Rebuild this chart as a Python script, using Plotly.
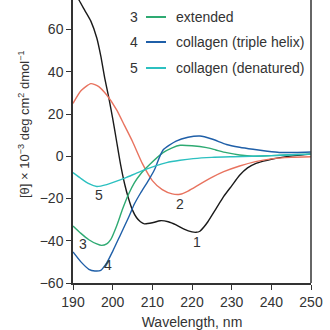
import plotly.graph_objects as go

# curve 1: alpha helix (black)
wl1 = [190, 191.5, 193, 194.5, 196, 197, 198, 199, 200, 201, 202, 203, 204, 205, 206, 207, 208, 210, 212,
       214, 216, 218, 220, 221, 222, 223, 224, 226, 228, 230, 232, 234, 236, 238, 240, 243, 246, 250]
v1 = [80, 74, 69, 64, 56, 47.5, 37, 28, 18, 7, -4, -13, -20, -25.5, -29, -31, -32, -31.5, -30.5,
      -31, -32.5, -34.5, -35.8, -36, -35.5, -33.5, -31, -25, -19, -14, -9, -5.5, -3.5, -2.3, -1.4, -0.4, 0.3, 1]
# curve 2: antiparallel beta sheet (red)
wl2 = [190, 192, 194.5, 196.5, 198.5, 201, 203, 205, 207.5, 210, 212.5, 215, 217, 219, 222, 225, 228, 232, 236, 240, 245, 250]
v2 = [25, 31, 34.4, 33, 29, 22, 14.5, 7, -3.5, -11.5, -15.8, -17.8, -18, -16.5, -13.2, -10, -7.3, -4.6, -2.5, -1.2, -0.5, -0.2]
# curve 3: extended (green)
wl3 = [190, 192, 194, 196, 197.2, 198.5, 199.5, 201, 202.5, 204, 205.5, 207, 209.4, 212.7, 215, 217, 220, 223.7, 226, 228.7, 232, 235.4, 240, 245, 250]
v3 = [-33, -36.5, -39.5, -41.5, -42.2, -41.5, -39.5, -33, -25, -18, -12.5, -8.5, -3.8, 1.7, 4, 5.2, 5, 4.1, 3, 1.7, 0.6, 0, 0.3, 0.7, 1]
# curve 4: collagen triple helix (blue)
wl4 = [190, 192, 194, 195.5, 197, 198.5, 200, 202, 204, 205.5, 207, 209, 210.5, 212.7, 216, 219, 222, 225, 228.7, 232, 235.4, 239, 242, 246, 250]
v4 = [-45.3, -50, -53.5, -54.3, -54, -50.5, -45, -37, -29, -22.5, -17.5, -11.5, -6.5, 3, 7.2, 9, 9.6, 8.2, 5.6, 4.3, 3.3, 2.4, 1.8, 1.8, 2]
# curve 5: collagen denatured (cyan)
wl5 = [190, 192, 194, 196, 198.5, 201, 203.5, 206, 208.5, 211, 213.6, 217, 220.3, 225, 230.4, 235, 240, 245, 250]
v5 = [-7.7, -10.5, -13, -14.3, -13.4, -11.8, -10, -8, -6.1, -4.4, -3, -1.9, -1.1, -0.5, -0.2, 0, 0.3, 0.7, 1]

series = [(wl1, v1, "#1a1a1a"), (wl2, v2, "#e8735f"), (wl3, v3, "#2eaa72"),
          (wl4, v4, "#1f5fa8"), (wl5, v5, "#2cc0c0")]

legend_nums = ["3", "4", "5"]
legend_names = ["extended", "collagen (triple helix)", "collagen (denatured)"]
legend_colors = ["#2eaa72", "#1f5fa8", "#2cc0c0"]

curve_labels = ["1", "2", "3", "4", "5"]
label_x = [221.2, 217, 192.4, 198.9, 196.6]
label_y = [-40.5, -22.5, -41.5, -51.5, -18.5]

x_ticks = [190, 200, 210, 220, 230, 240, 250]
y_ticks = [-60, -40, -20, 0, 20, 40, 60]

fig = go.Figure()
for x, y, c in series:
    fig.add_trace(go.Scatter(x=x, y=y, mode="lines", line=dict(color=c, width=1.4, shape="spline", smoothing=0.6),
                             showlegend=False, hoverinfo="skip"))

W, H = 330, 330
L, R, T, B = 73, 19, 0, 47
pw, ph = W - L - R, H - T - B

def px(xp):
    return (xp - L) / pw

def py(yp):
    return (H - B - yp) / ph

font = dict(family="Liberation Sans, Arial, sans-serif", size=14, color="#333333")

for t, xx, yy in zip(curve_labels, label_x, label_y):
    fig.add_annotation(x=xx, y=yy, text=t, showarrow=False, font=font, xanchor="center", yanchor="middle")

leg_y = [17, 42, 68]
for n, name, c, yy in zip(legend_nums, legend_names, legend_colors, leg_y):
    fig.add_annotation(xref="paper", yref="paper", x=px(134), y=py(yy), text=n, showarrow=False,
                       font=font, xanchor="center", yanchor="middle")
    fig.add_shape(type="line", xref="paper", yref="paper", x0=px(146), x1=px(166), y0=py(yy), y1=py(yy),
                  line=dict(color=c, width=2))
    fig.add_annotation(xref="paper", yref="paper", x=px(174), y=py(yy), text=name, showarrow=False,
                       font=font, xanchor="left", yanchor="middle")

# right border
fig.add_shape(type="line", xref="paper", yref="paper", x0=1, x1=1, y0=0, y1=1,
              line=dict(color="#333333", width=1.5))

fig.add_annotation(xref="paper", yref="paper", x=px(24), y=py(124),
                   text="[θ] × 10<sup>−3</sup> deg cm<sup>2</sup> dmol<sup>−1</sup>", textangle=-90,
                   showarrow=False, font=dict(family="Liberation Sans, Arial, sans-serif", size=13, color="#333333"),
                   xanchor="center", yanchor="middle")

fig.update_layout(
    width=W, height=H, margin=dict(l=L, r=R, t=T, b=B),
    plot_bgcolor="white", paper_bgcolor="white",
    xaxis=dict(range=[190, 250], tickvals=x_ticks, ticks="outside", ticklen=5, tickcolor="#333333",
               showline=True, linecolor="#333333", linewidth=1.5, showgrid=False, zeroline=False,
               tickfont=font, title=dict(text="Wavelength, nm", font=font, standoff=12)),
    yaxis=dict(range=[-60, 74], tickvals=y_ticks, ticks="outside", ticklen=5, tickcolor="#333333",
               showline=True, linecolor="#333333", linewidth=1.5, showgrid=False, zeroline=False,
               tickfont=font),
)

fig.write_html("out.html")
